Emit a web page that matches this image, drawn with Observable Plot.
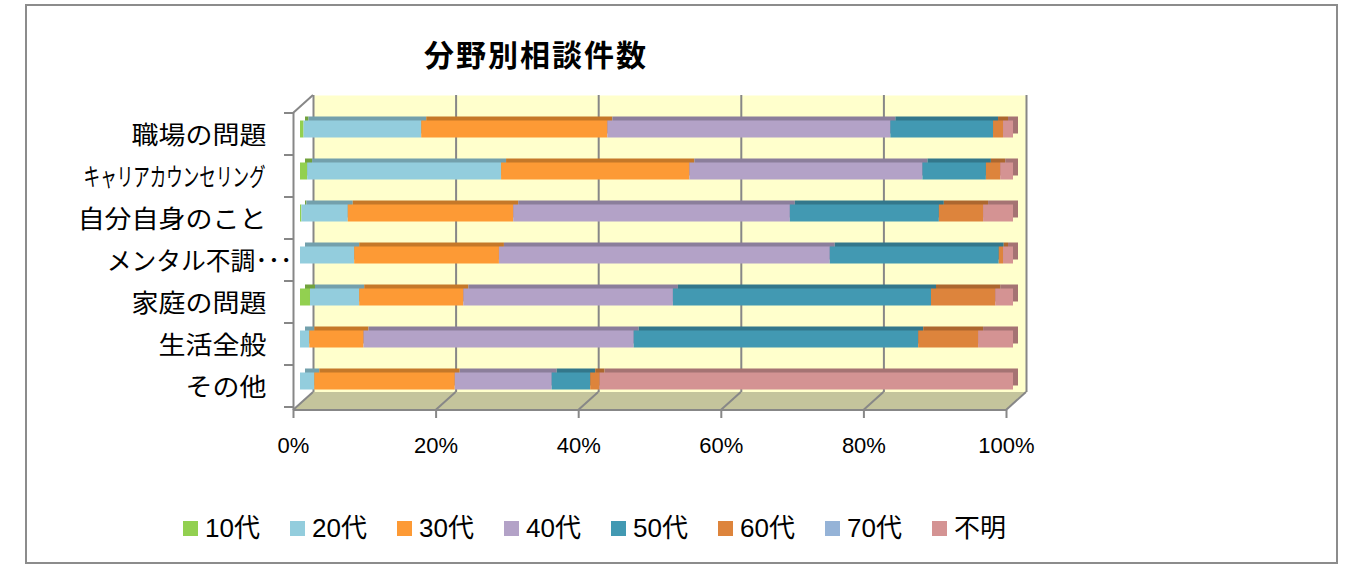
<!DOCTYPE html>
<html><head><meta charset="utf-8">
<script src="https://cdn.jsdelivr.net/npm/d3@7"></script>
<script src="https://cdn.jsdelivr.net/npm/@observablehq/plot@0.6"></script>
<style>
body{margin:0;background:#fff;width:1358px;height:569px;position:relative;overflow:hidden;font-family:"Liberation Sans","Noto Sans CJK JP",sans-serif;}
#border{position:absolute;left:25px;top:4px;width:1309px;height:556px;border:2px solid #8c8c8c;box-sizing:content-box;}
#title{position:absolute;left:0;width:1072px;top:38px;text-align:center;font-family:"Noto Sans CJK JP",sans-serif;font-weight:bold;font-size:30px;line-height:30px;letter-spacing:2px;color:#000;}
#chart{position:absolute;left:0;top:0;}
#legend{position:absolute;top:515px;left:183px;display:flex;}
.item{width:107px;display:flex;align-items:center;font-size:26px;line-height:26px;height:26px;color:#000;white-space:nowrap;}
.sw{width:15px;height:15px;margin-right:7px;flex:none;}
</style></head>
<body>
<div id="border"></div>
<div id="title">分野別相談件数</div>
<div id="chart"></div>
<div id="legend"></div>
<script>
// categories (top to bottom) and tick labels
const categoryLabels = ["職場の問題","キャリアカウンセリング","自分自身のこと","メンタル不調･･･","家庭の問題","生活全般","その他"];
const ages = ["10代","20代","30代","40代","50代","60代","70代","不明"];
const colors = ["#92d050","#93cddd","#fd9a35","#b3a2c7","#4299b2","#dd843c","#95b3d7","#d49393"];
const xTicks = [0, 0.2, 0.4, 0.6, 0.8, 1];

// series values (% per category, same order as categoryLabels)
const s10  = [0.5, 1.0, 0.2, 0.0, 1.4, 0.0, 0.0];
const s20  = [16.5, 27.2, 6.5, 7.6, 6.9, 1.3, 2.0];
const s30  = [26.1, 26.4, 23.2, 20.3, 14.6, 7.6, 19.7];
const s40  = [39.7, 32.7, 38.8, 46.4, 29.4, 37.9, 13.6];
const s50  = [14.4, 8.9, 20.9, 23.7, 36.2, 39.9, 5.4];
const s60  = [1.4, 2.0, 6.2, 0.6, 9.0, 8.4, 1.3];
const s70  = [0, 0, 0, 0, 0, 0, 0];
const sUnk = [1.4, 1.8, 4.2, 1.4, 2.5, 4.9, 58.0];
const series = [s10, s20, s30, s40, s50, s60, s70, sUnk];

const data = [];
categoryLabels.forEach((c, i) => series.forEach((s, j) => data.push({category: c, age: ages[j], color: colors[j], value: s[i]})));
const darker = c => d3.color(c).darker(0.7).formatHex();

const plot = Plot.plot({
  width: 1358, height: 470,
  marginLeft: 293, marginRight: 352, marginTop: 113, marginBottom: 60,
  style: {fontFamily: "'Liberation Sans','Noto Sans CJK JP',sans-serif", background: "transparent", overflow: "visible", color: "#000"},
  x: {domain: [0, 1]},
  y: {domain: categoryLabels, paddingInner: 0.6, paddingOuter: 0.3, axis: null},
  color: {type: "identity"},
  marks: [
    Plot.frame({fill: "#ffffcc", stroke: null, dx: 20, dy: -18}),
    Plot.ruleX(xTicks, {stroke: "#878787", strokeWidth: 2, dx: 20, dy: -18}),
    Plot.ruleX([0], {stroke: "#878787", strokeWidth: 2}),
    Plot.barX(data, Plot.stackX({x: "value", y: "category", fill: d => darker(d.color), offset: "normalize", dx: 12, dy: -10.5, ariaDescription: "bar-depth"})),
    Plot.barX(data, Plot.stackX({x: "value", y: "category", fill: "color", offset: "normalize", dx: 7, dy: -6.5, ariaDescription: "bar-front"})),
    Plot.axisX({ticks: xTicks, tickFormat: d3.format(".0%"), tickSize: 8, tickPadding: 19, fontSize: 22, stroke: "#878787", strokeWidth: 2, label: null}),
    Plot.text(categoryLabels, {y: d => d, frameAnchor: "left", textAnchor: "end", dx: -25, fontSize: 25, fontFamily: "'Noto Sans CJK JP',sans-serif", fill: "#000", ariaDescription: "ylabels"})
  ]
});
document.getElementById("chart").appendChild(plot);

// 3D frame decorations computed from Plot's scales
const svg = d3.select(plot);
const xs = plot.scale("x"), ys = plot.scale("y");
const X = v => xs.apply(v);
const [yTop, yBottom] = ys.range;
const step = ys.step;
const DX = 20, DY = -18, G = "#878787";
const barGroup = plot.querySelector("[aria-description='bar-depth']");
const deco = d3.select(plot.insertBefore(document.createElementNS("http://www.w3.org/2000/svg", "g"), barGroup));
deco.append("polygon")
  .attr("points", [[X(0), yBottom], [X(1), yBottom], [X(1) + DX, yBottom + DY], [X(0) + DX, yBottom + DY]].map(p => p.join(",")).join(" "))
  .attr("fill", "#c4c49c");
xTicks.forEach(t => deco.append("line").attr("x1", X(t)).attr("y1", yBottom).attr("x2", X(t) + DX).attr("y2", yBottom + DY).attr("stroke", G).attr("stroke-width", 2));
deco.append("line").attr("x1", X(0)).attr("y1", yTop).attr("x2", X(0) + DX).attr("y2", yTop + DY).attr("stroke", G).attr("stroke-width", 2);
deco.append("line").attr("x1", X(0)).attr("y1", yBottom).attr("x2", X(1)).attr("y2", yBottom).attr("stroke", G).attr("stroke-width", 2);
for (let k = 0; k <= categoryLabels.length; k++) {
  const yy = yTop + k * step;
  deco.append("line").attr("x1", X(0) - 9).attr("y1", yy).attr("x2", X(0)).attr("y2", yy).attr("stroke", G).attr("stroke-width", 2);
}

// label typography: horizontal stretch to mimic the original wide / condensed Japanese fonts
Array.from(plot.querySelectorAll("text"))
  .filter(el => categoryLabels.includes(el.textContent))
  .forEach(el => {
    const i = categoryLabels.indexOf(el.textContent);
    const base = el.getAttribute("transform") || "";
    const len = el.getComputedTextLength();
    let sx = 1.08, shift = -2;
    if (i === 1) { sx = 182 / len; shift = -3; }        // condensed katakana label
    else if (i === 3) { sx = 186 / len; shift = 24; }   // truncated label runs past the axis
    el.setAttribute("transform", `${base} scale(${sx},1)`);
    el.setAttribute("dx", shift / sx);
  });

// legend
const legend = d3.select("#legend");
ages.forEach((a, i) => {
  const it = legend.append("div").attr("class", "item");
  it.append("div").attr("class", "sw").style("background", colors[i]);
  it.append("span").text(a);
});
</script>
</body></html>
